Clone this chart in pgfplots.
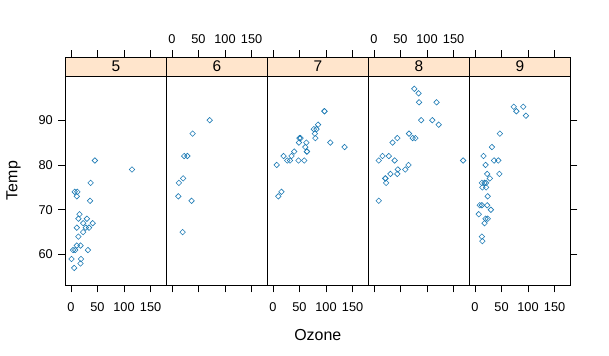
\documentclass[border=0pt]{standalone}
\usepackage{fontspec}
\setmainfont{Liberation Sans}
\usepackage{pgfplots}
\pgfplotsset{compat=1.18}
\definecolor{stripbg}{HTML}{FFE5CC}
\definecolor{ptcol}{RGB}{28,122,180}
\pgfplotsset{
  panel/.style={
    scale only axis, width=101bp, height=209.3bp,
    xmin=-10.69, xmax=179.69, ymin=53.13, ymax=99.87,
    xtick={0,50,100,150}, xtick pos=left,
    tick align=outside, major tick length=7bp,
    axis line style={black, line width=0.8bp},
    tick style={black, line width=0.7bp},
    /pgf/number format/assume math mode=true,
    ticklabel style={font=\fontsize{12.8}{12.8}\selectfont},
    xticklabel style={yshift=-7bp},
    yticklabel style={xshift=-2bp},
    clip=false,
  },
  strip/.style={
    scale only axis, width=101bp, height=18.7bp,
    xmin=-10.69, xmax=179.69, ymin=0, ymax=1,
    ytick=\empty,
    xtick={0,50,100,150}, xtick pos=right,
    tick align=outside, major tick length=7bp,
    axis line style={black, line width=0.8bp},
    tick style={black, line width=0.7bp},
    axis background/.style={fill=stripbg},
    /pgf/number format/assume math mode=true,
    ticklabel style={font=\fontsize{12.8}{12.8}\selectfont},
    xticklabel style={yshift=3.5bp},
  },
  pts/.style={only marks, mark=square, mark size=1.95bp, color=ptcol, mark options={line width=0.6bp, fill=none, rotate=45}},
}
\newcommand{\striplab}[1]{\node[font=\fontsize{15.5}{15.5}\selectfont] at (rel axis cs:0.5,0.5) {#1};}
\begin{document}
\begin{tikzpicture}
\useasboundingbox (0,0) rectangle (609bp,356bp);
% ---------- Month 5
\begin{axis}[panel, at={(65.3bp,70.7bp)}, anchor=south west,
  ytick={60,70,80,90}, ytick pos=left]
\addplot[pts] table {
41 67
36 72
12 74
18 62
28 66
23 65
19 59
8 61
7 74
16 69
11 66
14 68
18 58
14 64
34 66
6 57
30 68
11 62
1 59
11 73
4 61
32 61
23 67
45 81
115 79
37 76
};
\end{axis}
\begin{axis}[strip, at={(65.3bp,280bp)}, anchor=south west, xticklabels={}]
\addplot[draw=none] coordinates {(0,0)};
\striplab{5}
\end{axis}
% ---------- Month 6
\begin{axis}[panel, at={(166.3bp,70.7bp)}, anchor=south west,
  ytick=\empty, xticklabels={}]
\addplot[pts] table {
29 82
71 90
39 87
23 82
21 77
37 72
20 65
12 73
13 76
};
\end{axis}
\begin{axis}[strip, at={(166.3bp,280bp)}, anchor=south west]
\addplot[draw=none] coordinates {(0,0)};
\striplab{6}
\end{axis}
% ---------- Month 7
\begin{axis}[panel, at={(267.3bp,70.7bp)}, anchor=south west,
  ytick=\empty]
\addplot[pts] table {
135 84
49 85
32 81
64 83
40 83
77 88
97 92
97 92
85 89
10 73
27 81
7 80
48 81
35 82
61 84
79 87
63 85
16 74
80 86
108 85
20 82
52 86
82 88
50 86
64 83
59 81
};
\end{axis}
\begin{axis}[strip, at={(267.3bp,280bp)}, anchor=south west, xticklabels={}]
\addplot[draw=none] coordinates {(0,0)};
\striplab{7}
\end{axis}
% ---------- Month 8
\begin{axis}[panel, at={(368.3bp,70.7bp)}, anchor=south west,
  ytick=\empty, xticklabels={}]
\addplot[pts] table {
39 81
9 81
16 82
78 86
35 85
66 87
122 89
89 90
110 90
44 86
28 82
65 80
22 77
59 79
23 76
31 78
44 78
21 77
9 72
45 79
168 81
73 86
76 97
118 94
84 96
85 94
};
\end{axis}
\begin{axis}[strip, at={(368.3bp,280bp)}, anchor=south west]
\addplot[draw=none] coordinates {(0,0)};
\striplab{8}
\end{axis}
% ---------- Month 9
\begin{axis}[panel, at={(469.3bp,70.7bp)}, anchor=south west,
  ytick={60,70,80,90}, ytick pos=right, yticklabels={}]
\addplot[pts] table {
96 91
78 92
73 93
91 93
47 87
32 84
20 80
23 78
21 75
24 73
44 81
21 76
28 77
9 71
13 71
46 78
18 67
13 76
24 68
16 82
13 64
23 71
36 81
7 69
14 63
30 70
14 75
18 76
20 68
};
\end{axis}
\begin{axis}[strip, at={(469.3bp,280bp)}, anchor=south west, xticklabels={}]
\addplot[draw=none] coordinates {(0,0)};
\striplab{9}
\end{axis}
% ---------- axis titles
\node[rotate=90, font=\fontsize{16}{16}\selectfont] at (13.5bp,175.4bp) {Temp};
\node[font=\fontsize{16}{16}\selectfont] at (317.8bp,21bp) {Ozone};
\end{tikzpicture}
\end{document}
